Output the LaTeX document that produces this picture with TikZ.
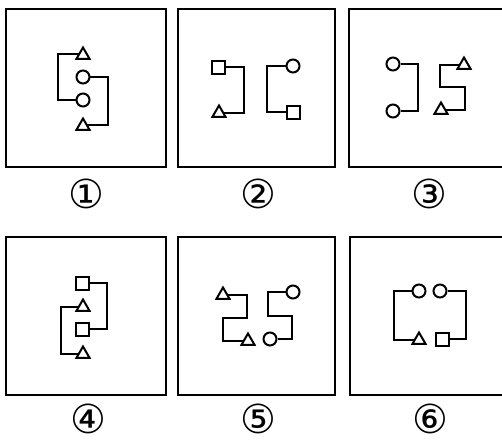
\documentclass[tikz,border=0pt]{standalone}
\usepackage{fontspec}
\newfontfamily\circfont{DejaVu Sans}
\usetikzlibrary{shapes.geometric}
\begin{document}
\begin{tikzpicture}[x=1pt,y=-1pt,
  panel/.style={draw=black,line width=2.8pt},
  wire/.style={draw=black,line width=2pt},
  circ/.style={circle,draw=black,line width=2pt,fill=white,minimum size=13pt,inner sep=0pt},
  sq/.style={rectangle,draw=black,line width=2pt,fill=white,minimum size=13pt,inner sep=0pt},
  tri/.style={regular polygon,regular polygon sides=3,draw=black,line width=2pt,fill=white,minimum size=15pt,inner sep=0pt},
  lbl/.style={font=\circfont\fontsize{40}{40}\selectfont,inner sep=0pt}
]
\useasboundingbox (0,0) rectangle (502,444);
\clip (0,0) rectangle (502,444);
% panels
\draw[panel] (6,9) rectangle (166,167);
\draw[panel] (178,9) rectangle (335,167);
\draw[panel] (349,9) rectangle (506,167);
\draw[panel] (6,237) rectangle (166,395);
\draw[panel] (178,237) rectangle (335,395);
\draw[panel] (350,237) rectangle (506,395);
% labels
\node[lbl] (L1) at (86,194) {①};
\node[lbl] (L2) at (258,194) {②};
\node[lbl] (L3) at (429,194) {③};
\node[lbl] (L4) at (88,419) {④};
\node[lbl] (L5) at (258,419) {⑤};
\node[lbl] (L6) at (430,419) {⑥};
% panel 1
\coordinate (k1a) at (58,77);
\coordinate (k1b) at (108,100);
\draw[wire] (83,54) -| (k1a) |- (83,100);
\draw[wire] (83,77) -| (k1b) |- (83,125);
\node[tri] (t1a) at (83,55) {};
\node[circ] (c1a) at (83,77) {};
\node[circ] (c1b) at (83,100) {};
\node[tri] (t1b) at (83,126) {};
% panel 2
\coordinate (k2a) at (244,90);
\coordinate (k2b) at (267,90);
\node[sq] (s2a) at (218,67) {};
\node[tri] (t2a) at (219,113) {};
\node[circ] (c2a) at (293,66) {};
\node[sq] (s2b) at (293,112) {};
\draw[wire] (s2a.east) -| (k2a) |- (t2a.east);
\draw[wire] (c2a.west) -| (k2b) |- (s2b.west);
% panel 3
\node[circ] (c3a) at (393,64) {};
\node[circ] (c3b) at (393,111) {};
\node[tri] (t3a) at (464,65) {};
\node[tri] (t3b) at (441,110) {};
\coordinate (k3a) at (418,88);
\coordinate (k3b) at (440,87);
\coordinate (k3c) at (465,87);
\draw[wire] (c3a.east) -| (k3a) |- (c3b.east);
\draw[wire] (t3a.west) -| (k3b) -- (k3c) |- (t3b.east);
% panel 4
\node[sq] (s4a) at (82,283) {};
\node[sq] (s4b) at (82,329) {};
\node[tri] (t4a) at (83,307) {};
\node[tri] (t4b) at (83,354) {};
\coordinate (k4a) at (107,306);
\coordinate (k4b) at (61,330);
\draw[wire] (s4a.east) -| (k4a) |- (s4b.east);
\draw[wire] (t4a.west) -| (k4b) |- (t4b.west);
% panel 5
\node[tri] (t5a) at (223,295) {};
\node[tri] (t5b) at (248,341) {};
\node[circ] (c5a) at (293,292) {};
\node[circ] (c5b) at (270,339) {};
\coordinate (k5a) at (247,318);
\coordinate (k5b) at (223,318);
\coordinate (k5c) at (268,316);
\coordinate (k5d) at (292,316);
\draw[wire] (t5a.east) -| (k5a) -- (k5b) |- (t5b.west);
\draw[wire] (c5a.west) -| (k5c) -- (k5d) |- (c5b.east);
% panel 6
\node[circ] (c6a) at (419,291) {};
\node[circ] (c6b) at (440,291) {};
\node[tri] (t6) at (419,340) {};
\node[sq] (s6) at (442,339) {};
\coordinate (k6a) at (394,315);
\coordinate (k6b) at (466,315);
\draw[wire] (c6a.west) -| (k6a) |- (t6.west);
\draw[wire] (c6b.east) -| (k6b) |- (s6.east);
\end{tikzpicture}
\end{document}
